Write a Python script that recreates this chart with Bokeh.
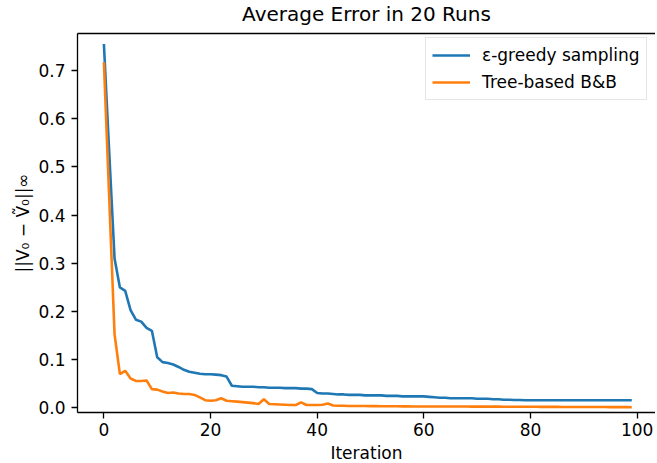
from bokeh.plotting import figure
from bokeh.models import (Range1d, FixedTicker, NumeralTickFormatter, Legend,
                          LegendItem, ColumnDataSource, LinearAxis)
from bokeh.embed import file_html
from bokeh.resources import INLINE

# ---- data ----
iterations = list(range(100))

egreedy = [
    0.755, 0.530, 0.310, 0.250, 0.243, 0.203, 0.183, 0.179, 0.166, 0.160,
    0.105, 0.095, 0.093, 0.090, 0.085, 0.079, 0.075, 0.073, 0.071, 0.070,
    0.070, 0.069, 0.068, 0.065, 0.046, 0.045, 0.044, 0.044, 0.044, 0.043,
    0.043, 0.042, 0.042, 0.042, 0.041, 0.041, 0.041, 0.040, 0.040, 0.039,
    0.031, 0.030, 0.030, 0.029, 0.028, 0.028, 0.027, 0.027, 0.027, 0.026,
    0.026, 0.026, 0.026, 0.025, 0.025, 0.025, 0.024, 0.024, 0.024, 0.024,
    0.024, 0.023, 0.022, 0.021, 0.021, 0.020, 0.020, 0.020, 0.020, 0.020,
    0.019, 0.019, 0.019, 0.018, 0.018, 0.017, 0.017, 0.0165, 0.0165, 0.016,
    0.016, 0.016, 0.016, 0.016, 0.016, 0.016, 0.016, 0.016, 0.016, 0.016,
    0.016, 0.016, 0.016, 0.016, 0.016, 0.016, 0.016, 0.016, 0.016, 0.016,
]

tree_bb = [
    0.717, 0.435, 0.153, 0.070, 0.077, 0.061, 0.056, 0.056, 0.057, 0.039,
    0.038, 0.034, 0.031, 0.032, 0.030, 0.029, 0.029, 0.027, 0.022, 0.016,
    0.015, 0.016, 0.020, 0.015, 0.014, 0.013, 0.012, 0.011, 0.010, 0.008,
    0.018, 0.008, 0.0075, 0.007, 0.0065, 0.006, 0.006, 0.0115, 0.006, 0.006,
    0.006, 0.0065, 0.009, 0.005, 0.0045, 0.0045, 0.004, 0.004, 0.004, 0.004,
    0.0038, 0.0037, 0.0036, 0.0035, 0.0035, 0.0034, 0.0033, 0.0032, 0.0031, 0.003,
    0.003, 0.003, 0.003, 0.003, 0.0029, 0.0029, 0.0028, 0.0028, 0.0028, 0.0027,
    0.0027, 0.0027, 0.0026, 0.0026, 0.0026, 0.0025, 0.0025, 0.0025, 0.0024, 0.0024,
    0.0023, 0.0023, 0.0022, 0.0022, 0.0021, 0.0021, 0.002, 0.002, 0.002, 0.002,
    0.0019, 0.0019, 0.0018, 0.0018, 0.0018, 0.0017, 0.0017, 0.0016, 0.0016, 0.0015,
]

x_ticks = [0, 20, 40, 60, 80, 100]
y_ticks = [0.0, 0.1, 0.2, 0.3, 0.4, 0.5, 0.6, 0.7]
series_labels = ["\u03b5-greedy sampling", "Tree-based B&B"]
series_colors = ["#1f77b4", "#ff7f0e"]
title_text = "Average Error in 20 Runs"
x_label = "Iteration"
y_label = "||V\u2080 \u2212 \u1e7c\u2080||\u221e"

X_START, X_END = -4.95, 103.45
Y_START, Y_END = -0.0095, 0.7768

FONT = "DejaVu Sans"

src = ColumnDataSource(dict(it=iterations, a=egreedy, b=tree_bb))

p = figure(frame_width=578, frame_height=379, output_backend="svg",
           toolbar_location=None,
           x_range=Range1d(X_START, X_END), y_range=Range1d(Y_START, Y_END),
           min_border_left=77, min_border_right=0, min_border_top=33,
           min_border_bottom=0, title=title_text)

p.title.align = "center"
p.title.vertical_align = "top"
p.title.text_font = FONT
p.title.text_font_size = "20px"
p.title.text_font_style = "normal"
p.title.text_color = "black"
p.title.standoff = 0
p.title.offset = 0
p.title.padding = dict(left=0, right=0, top=0, bottom=6)

p.xgrid.visible = False
p.ygrid.visible = False
p.outline_line_color = None
p.background_fill_color = "white"
p.border_fill_color = "white"

r1 = p.line("it", "a", source=src, line_color=series_colors[0], line_width=2.6)
r2 = p.line("it", "b", source=src, line_color=series_colors[1], line_width=2.6)

# top spine (a tick-less axis above the frame)
top_axis = LinearAxis(ticker=FixedTicker(ticks=[50]), axis_line_color="black",
                      axis_line_width=1.3, major_tick_out=0, major_tick_in=0,
                      minor_tick_out=0, minor_tick_in=0,
                      major_tick_line_color=None, major_label_text_color=None,
                      major_label_text_font_size="1px", major_label_standoff=0)
p.add_layout(top_axis, "above")

xa = p.below[0]
ya = p.left[0]
for ax in (xa, ya):
    ax.axis_line_color = "black"
    ax.axis_line_width = 1.3
    ax.major_tick_line_color = "black"
    ax.major_tick_line_width = 1.3
    ax.major_tick_out = 6
    ax.major_tick_in = 0
    ax.minor_tick_out = 0
    ax.minor_tick_in = 0
    ax.major_label_text_font = FONT
    ax.major_label_text_font_size = "17px"
    ax.major_label_text_color = "black"
    ax.axis_label_text_font = FONT
    ax.axis_label_text_font_size = "17px"
    ax.axis_label_text_font_style = "normal"
    ax.axis_label_text_color = "black"

xa.ticker = FixedTicker(ticks=x_ticks)
xa.formatter = NumeralTickFormatter(format="0")
xa.axis_label = x_label
xa.major_label_standoff = 4
xa.axis_label_standoff = 4

ya.ticker = FixedTicker(ticks=y_ticks)
ya.formatter = NumeralTickFormatter(format="0.0")
ya.axis_label = y_label
ya.major_label_standoff = 6
ya.axis_label_standoff = 2

legend = Legend(items=[LegendItem(label=series_labels[0], renderers=[r1]),
                       LegendItem(label=series_labels[1], renderers=[r2])],
                location=(348, 312))
legend.label_text_font = FONT
legend.label_text_font_size = "17px"
legend.label_text_color = "black"
legend.glyph_width = 38
legend.glyph_height = 22
legend.label_height = 22
legend.label_standoff = 12
legend.spacing = 5
legend.padding = 6
legend.margin = 0
legend.border_line_color = "#cccccc"
legend.border_line_width = 1
legend.background_fill_alpha = 0.8
p.add_layout(legend)

open("out.html", "w").write(file_html(p, INLINE))
